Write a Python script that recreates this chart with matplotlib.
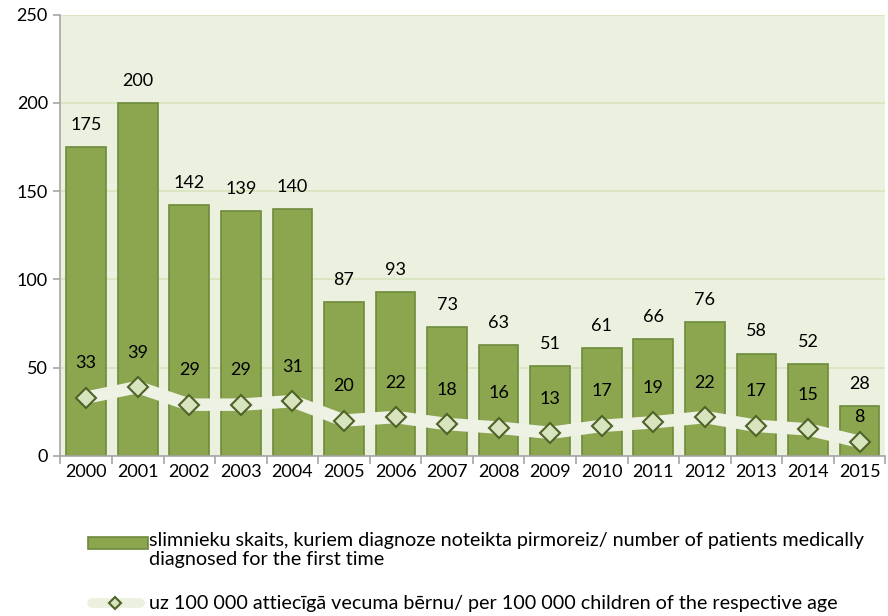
import matplotlib
matplotlib.use("Agg")
import matplotlib.pyplot as plt
from matplotlib.lines import Line2D
from matplotlib.patches import Rectangle

years = ["2000", "2001", "2002", "2003", "2004", "2005", "2006", "2007",
         "2008", "2009", "2010", "2011", "2012", "2013", "2014", "2015"]
patients = [175, 200, 142, 139, 140, 87, 93, 73, 63, 51, 61, 66, 76, 58, 52, 28]
per100k = [33, 39, 29, 29, 31, 20, 22, 18, 16, 13, 17, 19, 22, 17, 15, 8]

label_bar = "slimnieku skaits, kuriem diagnoze noteikta pirmoreiz/ number of patients medically\ndiagnosed for the first time"
label_line = "uz 100 000 attiecīgā vecuma bērnu/ per 100 000 children of the respective age"

plt.rcParams['font.family'] = ['Lato', 'DejaVu Sans']
FS = 13
W, H = 888, 616

fig = plt.figure(figsize=(8.88, 6.16), dpi=100)
ax = fig.add_axes([0.068, 0.26, 0.929, 0.716])
ax.set_facecolor('#EBF1DE')

x = list(range(len(years)))
ax.bar(x, patients, width=0.77, color='#8BA64F', edgecolor='#6E8B3D', linewidth=1.2, zorder=2)
ax.plot(x, per100k, color='#EEF2E4', linewidth=9, zorder=3, solid_capstyle='round')
ax.plot(x, per100k, linestyle='none', marker='D', markersize=10,
        markerfacecolor='#D7E4BD', markeredgecolor='#4F6228', markeredgewidth=1.5, zorder=4)

for xi, v in zip(x, patients):
    ax.text(xi, v + 12.5, str(v), ha='center', va='center', fontsize=FS, color='black', zorder=5)
for xi, v, b in zip(x, per100k, patients):
    ax.text(xi, min(v + 19.5, b - 6), str(v), ha='center', va='center', fontsize=FS, color='black', zorder=5)

ax.set_ylim(0, 250)
ax.set_xlim(-0.5, len(years) - 0.5)
ax.set_yticks(range(0, 251, 50))
ax.yaxis.grid(True, color='#D7E4BD', linewidth=1.2, zorder=0)
ax.set_axisbelow(True)
ax.set_xticks(x)
ax.set_xticklabels(years)
ax.set_xticks([i - 0.5 for i in range(len(years) + 1)], minor=True)
ax.tick_params(axis='x', which='major', length=0, labelsize=FS, pad=6)
ax.tick_params(axis='x', which='minor', length=6, color='#A6A6A6', width=1.2)
ax.tick_params(axis='y', length=5, color='#A6A6A6', width=1.2, labelsize=FS, pad=4)
for s in ['top', 'right']:
    ax.spines[s].set_visible(False)
for s in ['left', 'bottom']:
    ax.spines[s].set_color('#A6A6A6')
    ax.spines[s].set_linewidth(1.2)

# Legend (manual, figure pixel coordinates converted to fractions)
def fx(px):
    return px / W

def fy(py):
    return 1 - py / H

fig.patches.append(Rectangle((fx(88), fy(549)), fx(148) - fx(88), fy(537) - fy(549),
                             transform=fig.transFigure, facecolor='#8BA64F',
                             edgecolor='#6E8B3D', linewidth=1.2, figure=fig))
fig.text(fx(149), fy(532), label_bar, ha='left', va='top', fontsize=14.2,
         linespacing=1.12, transform=fig.transFigure)
fig.lines.append(Line2D([fx(92), fx(140)], [fy(603), fy(603)], transform=fig.transFigure,
                        color='#EBF1DE', linewidth=7, solid_capstyle='round', figure=fig))
fig.lines.append(Line2D([fx(115)], [fy(603)], transform=fig.transFigure, linestyle='none',
                        marker='D', markersize=6, markerfacecolor='#D7E4BD',
                        markeredgecolor='#4F6228', markeredgewidth=1.5, figure=fig))
fig.text(fx(149), fy(603), label_line, ha='left', va='center', fontsize=14.2,
         transform=fig.transFigure)

fig.savefig('out.png', dpi=100)
